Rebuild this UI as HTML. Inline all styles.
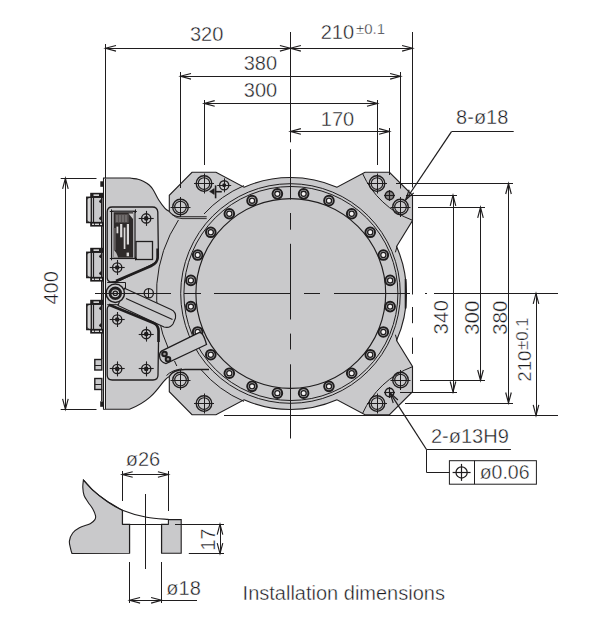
<!DOCTYPE html>
<html><head><meta charset="utf-8"><style>
html,body{margin:0;padding:0;background:#fff;}
svg{display:block;}
text{font-family:"Liberation Sans",sans-serif;fill:#1a1a1e;stroke:#fff;stroke-width:0.4px;paint-order:normal;}
</style></head><body>
<svg width="600" height="626" viewBox="0 0 600 626">
<rect width="600" height="626" fill="#fff"/>
<path d="M103.5 178 L130 178  C131.33 178.45 135.78 178.70 138.00 179.20 C140.22 179.70 141.43 180.33 143.30 181.30 C145.17 182.27 147.53 183.55 149.20 185.00 C150.87 186.45 151.71 187.50 153.30 190.00 C154.89 192.50 156.80 196.95 158.75 200.00 C160.70 203.05 163.24 206.38 165.00 208.30 C166.76 210.22 168.58 210.97 169.30 211.50 L169.3 195.3 L192 172.3 L216 172.3 L244 187.23 A116 116 0 0 1 337.00 187.23 L365 172.3 L389.5 172.3 L412.5 195.3 L412.5 220.5 L396.55 246.5 A116 116 0 0 1 396.55 340.50 L412.5 366.50 L412.5 391.7 L389.5 414.7 L365 414.7 L337 399.77 A116 116 0 0 1 244 399.77 L216 414.7 L192 414.7 L169.3 391.7 L169.3 376.5 C160 381 158 398 129.5 409.3 L103.5 409.3 Z" fill="#c9c9cb" stroke="#1f1d1e" stroke-width="1.1"/>
<circle cx="290.50" cy="293.50" r="109.80" fill="none" stroke="#1f1d1e" stroke-width="1.00"/>
<circle cx="290.90" cy="293.50" r="107.00" fill="none" stroke="#1f1d1e" stroke-width="1.00"/>
<circle cx="290.80" cy="293.50" r="94.90" fill="none" stroke="#1f1d1e" stroke-width="1.15"/>
<circle cx="390.14" cy="280.38" r="4.80" fill="#c9c9cb" stroke="#1f1d1e" stroke-width="2.00"/>
<circle cx="390.14" cy="280.38" r="2.60" fill="#f4f2f2" stroke="#1f1d1e" stroke-width="1.30"/>
<circle cx="383.35" cy="255.04" r="4.80" fill="#c9c9cb" stroke="#1f1d1e" stroke-width="2.00"/>
<circle cx="383.35" cy="255.04" r="2.60" fill="#f4f2f2" stroke="#1f1d1e" stroke-width="1.30"/>
<circle cx="370.23" cy="232.32" r="4.80" fill="#c9c9cb" stroke="#1f1d1e" stroke-width="2.00"/>
<circle cx="370.23" cy="232.32" r="2.60" fill="#f4f2f2" stroke="#1f1d1e" stroke-width="1.30"/>
<circle cx="351.68" cy="213.77" r="4.80" fill="#c9c9cb" stroke="#1f1d1e" stroke-width="2.00"/>
<circle cx="351.68" cy="213.77" r="2.60" fill="#f4f2f2" stroke="#1f1d1e" stroke-width="1.30"/>
<circle cx="328.96" cy="200.65" r="4.80" fill="#c9c9cb" stroke="#1f1d1e" stroke-width="2.00"/>
<circle cx="328.96" cy="200.65" r="2.60" fill="#f4f2f2" stroke="#1f1d1e" stroke-width="1.30"/>
<circle cx="303.62" cy="193.86" r="4.80" fill="#c9c9cb" stroke="#1f1d1e" stroke-width="2.00"/>
<circle cx="303.62" cy="193.86" r="2.60" fill="#f4f2f2" stroke="#1f1d1e" stroke-width="1.30"/>
<circle cx="277.38" cy="193.86" r="4.80" fill="#c9c9cb" stroke="#1f1d1e" stroke-width="2.00"/>
<circle cx="277.38" cy="193.86" r="2.60" fill="#f4f2f2" stroke="#1f1d1e" stroke-width="1.30"/>
<circle cx="252.04" cy="200.65" r="4.80" fill="#c9c9cb" stroke="#1f1d1e" stroke-width="2.00"/>
<circle cx="252.04" cy="200.65" r="2.60" fill="#f4f2f2" stroke="#1f1d1e" stroke-width="1.30"/>
<circle cx="229.32" cy="213.77" r="4.80" fill="#c9c9cb" stroke="#1f1d1e" stroke-width="2.00"/>
<circle cx="229.32" cy="213.77" r="2.60" fill="#f4f2f2" stroke="#1f1d1e" stroke-width="1.30"/>
<circle cx="210.77" cy="232.32" r="4.80" fill="#c9c9cb" stroke="#1f1d1e" stroke-width="2.00"/>
<circle cx="210.77" cy="232.32" r="2.60" fill="#f4f2f2" stroke="#1f1d1e" stroke-width="1.30"/>
<circle cx="197.65" cy="255.04" r="4.80" fill="#c9c9cb" stroke="#1f1d1e" stroke-width="2.00"/>
<circle cx="197.65" cy="255.04" r="2.60" fill="#f4f2f2" stroke="#1f1d1e" stroke-width="1.30"/>
<circle cx="190.86" cy="280.38" r="4.80" fill="#c9c9cb" stroke="#1f1d1e" stroke-width="2.00"/>
<circle cx="190.86" cy="280.38" r="2.60" fill="#f4f2f2" stroke="#1f1d1e" stroke-width="1.30"/>
<circle cx="190.86" cy="306.62" r="4.80" fill="#c9c9cb" stroke="#1f1d1e" stroke-width="2.00"/>
<circle cx="190.86" cy="306.62" r="2.60" fill="#f4f2f2" stroke="#1f1d1e" stroke-width="1.30"/>
<circle cx="197.65" cy="331.96" r="4.80" fill="#c9c9cb" stroke="#1f1d1e" stroke-width="2.00"/>
<circle cx="197.65" cy="331.96" r="2.60" fill="#f4f2f2" stroke="#1f1d1e" stroke-width="1.30"/>
<circle cx="210.77" cy="354.68" r="4.80" fill="#c9c9cb" stroke="#1f1d1e" stroke-width="2.00"/>
<circle cx="210.77" cy="354.68" r="2.60" fill="#f4f2f2" stroke="#1f1d1e" stroke-width="1.30"/>
<circle cx="229.32" cy="373.23" r="4.80" fill="#c9c9cb" stroke="#1f1d1e" stroke-width="2.00"/>
<circle cx="229.32" cy="373.23" r="2.60" fill="#f4f2f2" stroke="#1f1d1e" stroke-width="1.30"/>
<circle cx="252.04" cy="386.35" r="4.80" fill="#c9c9cb" stroke="#1f1d1e" stroke-width="2.00"/>
<circle cx="252.04" cy="386.35" r="2.60" fill="#f4f2f2" stroke="#1f1d1e" stroke-width="1.30"/>
<circle cx="277.38" cy="393.14" r="4.80" fill="#c9c9cb" stroke="#1f1d1e" stroke-width="2.00"/>
<circle cx="277.38" cy="393.14" r="2.60" fill="#f4f2f2" stroke="#1f1d1e" stroke-width="1.30"/>
<circle cx="303.62" cy="393.14" r="4.80" fill="#c9c9cb" stroke="#1f1d1e" stroke-width="2.00"/>
<circle cx="303.62" cy="393.14" r="2.60" fill="#f4f2f2" stroke="#1f1d1e" stroke-width="1.30"/>
<circle cx="328.96" cy="386.35" r="4.80" fill="#c9c9cb" stroke="#1f1d1e" stroke-width="2.00"/>
<circle cx="328.96" cy="386.35" r="2.60" fill="#f4f2f2" stroke="#1f1d1e" stroke-width="1.30"/>
<circle cx="351.68" cy="373.23" r="4.80" fill="#c9c9cb" stroke="#1f1d1e" stroke-width="2.00"/>
<circle cx="351.68" cy="373.23" r="2.60" fill="#f4f2f2" stroke="#1f1d1e" stroke-width="1.30"/>
<circle cx="370.23" cy="354.68" r="4.80" fill="#c9c9cb" stroke="#1f1d1e" stroke-width="2.00"/>
<circle cx="370.23" cy="354.68" r="2.60" fill="#f4f2f2" stroke="#1f1d1e" stroke-width="1.30"/>
<circle cx="383.35" cy="331.96" r="4.80" fill="#c9c9cb" stroke="#1f1d1e" stroke-width="2.00"/>
<circle cx="383.35" cy="331.96" r="2.60" fill="#f4f2f2" stroke="#1f1d1e" stroke-width="1.30"/>
<circle cx="390.14" cy="306.62" r="4.80" fill="#c9c9cb" stroke="#1f1d1e" stroke-width="2.00"/>
<circle cx="390.14" cy="306.62" r="2.60" fill="#f4f2f2" stroke="#1f1d1e" stroke-width="1.30"/>
<path d="M362.60 173.60 A88.00 88.00 0 0 0 412.30 220.20" fill="none" stroke="#1f1d1e" stroke-width="1.00" />
<path d="M412.30 366.80 A88.00 88.00 0 0 0 362.60 413.40" fill="none" stroke="#1f1d1e" stroke-width="1.00" />
<path d="M204.00 213.98 A117.50 117.50 0 0 1 244.00 185.59" fill="none" stroke="#1f1d1e" stroke-width="1.00" />
<path d="M244.00 401.41 A117.50 117.50 0 0 1 201.00 369.63" fill="none" stroke="#1f1d1e" stroke-width="1.00" />
<path d="M169.3 211.5 Q173 216.8 180.8 216.8 L206.7 216.8" fill="none" stroke="#1f1d1e" stroke-width="1.10" />
<path d="M172 214.5 Q176 218.6 182 218.6 L206.7 218.6" fill="none" stroke="#1f1d1e" stroke-width="0.90" />
<path d="M169.3 376.5 Q173 369.5 185 369.5 L209 369.5" fill="none" stroke="#1f1d1e" stroke-width="1.30" />
<path d="M166.5 375.5 Q172 370 182 368.8" fill="none" stroke="#1f1d1e" stroke-width="1.00" />
<circle cx="204.00" cy="183.50" r="7.80" fill="none" stroke="#1f1d1e" stroke-width="1.35"/>
<circle cx="204.00" cy="183.50" r="5.80" fill="none" stroke="#1f1d1e" stroke-width="1.15"/>
<line x1="194.00" y1="183.50" x2="214.00" y2="183.50" stroke="#1f1d1e" stroke-width="1.00" />
<line x1="204.50" y1="173.50" x2="204.50" y2="193.50" stroke="#1f1d1e" stroke-width="1.00" />
<circle cx="180.50" cy="207.00" r="7.80" fill="none" stroke="#1f1d1e" stroke-width="1.35"/>
<circle cx="180.50" cy="207.00" r="5.80" fill="none" stroke="#1f1d1e" stroke-width="1.15"/>
<line x1="170.50" y1="207.50" x2="190.50" y2="207.50" stroke="#1f1d1e" stroke-width="1.00" />
<line x1="180.50" y1="197.00" x2="180.50" y2="217.00" stroke="#1f1d1e" stroke-width="1.00" />
<circle cx="204.00" cy="403.50" r="7.80" fill="none" stroke="#1f1d1e" stroke-width="1.35"/>
<circle cx="204.00" cy="403.50" r="5.80" fill="none" stroke="#1f1d1e" stroke-width="1.15"/>
<line x1="194.00" y1="403.50" x2="214.00" y2="403.50" stroke="#1f1d1e" stroke-width="1.00" />
<line x1="204.50" y1="393.50" x2="204.50" y2="413.50" stroke="#1f1d1e" stroke-width="1.00" />
<circle cx="180.50" cy="380.00" r="7.80" fill="none" stroke="#1f1d1e" stroke-width="1.35"/>
<circle cx="180.50" cy="380.00" r="5.80" fill="none" stroke="#1f1d1e" stroke-width="1.15"/>
<line x1="170.50" y1="380.50" x2="190.50" y2="380.50" stroke="#1f1d1e" stroke-width="1.00" />
<line x1="180.50" y1="370.00" x2="180.50" y2="390.00" stroke="#1f1d1e" stroke-width="1.00" />
<circle cx="377.00" cy="183.50" r="7.80" fill="none" stroke="#1f1d1e" stroke-width="1.35"/>
<circle cx="377.00" cy="183.50" r="5.80" fill="none" stroke="#1f1d1e" stroke-width="1.15"/>
<line x1="367.00" y1="183.50" x2="387.00" y2="183.50" stroke="#1f1d1e" stroke-width="1.00" />
<line x1="377.50" y1="173.50" x2="377.50" y2="193.50" stroke="#1f1d1e" stroke-width="1.00" />
<circle cx="400.50" cy="207.00" r="7.80" fill="none" stroke="#1f1d1e" stroke-width="1.35"/>
<circle cx="400.50" cy="207.00" r="5.80" fill="none" stroke="#1f1d1e" stroke-width="1.15"/>
<line x1="390.50" y1="207.50" x2="410.50" y2="207.50" stroke="#1f1d1e" stroke-width="1.00" />
<line x1="400.50" y1="197.00" x2="400.50" y2="217.00" stroke="#1f1d1e" stroke-width="1.00" />
<circle cx="377.00" cy="403.50" r="7.80" fill="none" stroke="#1f1d1e" stroke-width="1.35"/>
<circle cx="377.00" cy="403.50" r="5.80" fill="none" stroke="#1f1d1e" stroke-width="1.15"/>
<line x1="367.00" y1="403.50" x2="387.00" y2="403.50" stroke="#1f1d1e" stroke-width="1.00" />
<line x1="377.50" y1="393.50" x2="377.50" y2="413.50" stroke="#1f1d1e" stroke-width="1.00" />
<circle cx="400.50" cy="380.00" r="7.80" fill="none" stroke="#1f1d1e" stroke-width="1.35"/>
<circle cx="400.50" cy="380.00" r="5.80" fill="none" stroke="#1f1d1e" stroke-width="1.15"/>
<line x1="390.50" y1="380.50" x2="410.50" y2="380.50" stroke="#1f1d1e" stroke-width="1.00" />
<line x1="400.50" y1="370.00" x2="400.50" y2="390.00" stroke="#1f1d1e" stroke-width="1.00" />
<circle cx="224.20" cy="185.30" r="4.60" fill="none" stroke="#1f1d1e" stroke-width="1.40"/>
<circle cx="224.20" cy="185.30" r="2.00" fill="#1f1d1e" stroke="none" stroke-width="0.00"/>
<line x1="217.20" y1="185.50" x2="231.20" y2="185.50" stroke="#1f1d1e" stroke-width="1.00" />
<line x1="224.50" y1="178.30" x2="224.50" y2="192.30" stroke="#1f1d1e" stroke-width="1.00" />
<circle cx="389.50" cy="195.50" r="4.30" fill="#8c8a8a" stroke="#1f1d1e" stroke-width="1.50"/>
<line x1="384.00" y1="195.50" x2="395.00" y2="195.50" stroke="#1f1d1e" stroke-width="1.10" />
<line x1="389.50" y1="190.00" x2="389.50" y2="201.00" stroke="#1f1d1e" stroke-width="1.10" />
<circle cx="389.50" cy="392.50" r="4.30" fill="#c9c9cb" stroke="#1f1d1e" stroke-width="1.50"/>
<line x1="384.00" y1="392.50" x2="395.00" y2="392.50" stroke="#1f1d1e" stroke-width="1.10" />
<line x1="389.50" y1="387.00" x2="389.50" y2="398.00" stroke="#1f1d1e" stroke-width="1.10" />
<path d="M209.6 191.5 L214.2 188.6 L214.2 194.4 Z" fill="#1f1d1e" stroke="#1f1d1e" stroke-width="0.60" />
<line x1="215.60" y1="185.40" x2="215.60" y2="198.30" stroke="#1f1d1e" stroke-width="1.60" />
<line x1="215.60" y1="191.70" x2="221.80" y2="191.70" stroke="#1f1d1e" stroke-width="1.60" />
<path d="M178.46 220.00 A134.00 134.00 0 0 0 168.99 350.00" fill="none" stroke="#1f1d1e" stroke-width="1.00" />
<line x1="104.50" y1="179.00" x2="104.50" y2="408.80" stroke="#f4f4f4" stroke-width="1.00" />
<line x1="105.50" y1="178.50" x2="105.50" y2="409.00" stroke="#1f1d1e" stroke-width="1.00" />
<rect x="100.30" y="181.30" width="3.00" height="5.50" rx="0.00" fill="#1f1d1e" stroke="none" stroke-width="0.00"/>
<rect x="90.20" y="192.80" width="13.00" height="4.60" rx="0.00" fill="#1f1d1e" stroke="none" stroke-width="0.00"/>
<rect x="90.20" y="222.20" width="13.00" height="4.40" rx="0.00" fill="#1f1d1e" stroke="none" stroke-width="0.00"/>
<rect x="86.80" y="197.30" width="5.00" height="25.20" rx="0.00" fill="#d6d6d6" stroke="#1f1d1e" stroke-width="1.50"/>
<rect x="91.30" y="197.30" width="11.80" height="25.20" rx="0.00" fill="#c9c9cb" stroke="#1f1d1e" stroke-width="1.30"/>
<line x1="93.50" y1="197.30" x2="93.50" y2="222.50" stroke="#1f1d1e" stroke-width="1.20" />
<line x1="101.50" y1="197.30" x2="101.50" y2="222.50" stroke="#1f1d1e" stroke-width="1.00" />
<rect x="93.50" y="194.40" width="5.50" height="1.50" rx="0.00" fill="#e4e4e4" stroke="none" stroke-width="0.00"/>
<rect x="92.00" y="223.60" width="2.20" height="1.40" rx="0.00" fill="#d8d8d8" stroke="none" stroke-width="0.00"/>
<rect x="95.00" y="223.60" width="4.00" height="1.40" rx="0.00" fill="#d8d8d8" stroke="none" stroke-width="0.00"/>
<rect x="100.00" y="223.60" width="2.00" height="1.40" rx="0.00" fill="#d8d8d8" stroke="none" stroke-width="0.00"/>
<path d="M101.2 199.50 L99 201.50 L101.2 203.00 Z" fill="#1f1d1e" stroke="#1f1d1e" stroke-width="0.80" />
<path d="M101.2 216.50 L99 218.50 L101.2 220.00 Z" fill="#1f1d1e" stroke="#1f1d1e" stroke-width="0.80" />
<path d="M86.8 199.50 L89 197.30" fill="none" stroke="#1f1d1e" stroke-width="1.00" />
<path d="M86.8 220.30 L89 222.50" fill="none" stroke="#1f1d1e" stroke-width="1.00" />
<rect x="90.20" y="247.80" width="13.00" height="4.60" rx="0.00" fill="#1f1d1e" stroke="none" stroke-width="0.00"/>
<rect x="90.20" y="277.20" width="13.00" height="4.40" rx="0.00" fill="#1f1d1e" stroke="none" stroke-width="0.00"/>
<rect x="86.80" y="252.30" width="5.00" height="25.20" rx="0.00" fill="#d6d6d6" stroke="#1f1d1e" stroke-width="1.50"/>
<rect x="91.30" y="252.30" width="11.80" height="25.20" rx="0.00" fill="#c9c9cb" stroke="#1f1d1e" stroke-width="1.30"/>
<line x1="93.50" y1="252.30" x2="93.50" y2="277.50" stroke="#1f1d1e" stroke-width="1.20" />
<line x1="101.50" y1="252.30" x2="101.50" y2="277.50" stroke="#1f1d1e" stroke-width="1.00" />
<rect x="93.50" y="249.40" width="5.50" height="1.50" rx="0.00" fill="#e4e4e4" stroke="none" stroke-width="0.00"/>
<rect x="92.00" y="278.60" width="2.20" height="1.40" rx="0.00" fill="#d8d8d8" stroke="none" stroke-width="0.00"/>
<rect x="95.00" y="278.60" width="4.00" height="1.40" rx="0.00" fill="#d8d8d8" stroke="none" stroke-width="0.00"/>
<rect x="100.00" y="278.60" width="2.00" height="1.40" rx="0.00" fill="#d8d8d8" stroke="none" stroke-width="0.00"/>
<path d="M101.2 254.50 L99 256.50 L101.2 258.00 Z" fill="#1f1d1e" stroke="#1f1d1e" stroke-width="0.80" />
<path d="M101.2 271.50 L99 273.50 L101.2 275.00 Z" fill="#1f1d1e" stroke="#1f1d1e" stroke-width="0.80" />
<path d="M86.8 254.50 L89 252.30" fill="none" stroke="#1f1d1e" stroke-width="1.00" />
<path d="M86.8 275.30 L89 277.50" fill="none" stroke="#1f1d1e" stroke-width="1.00" />
<rect x="90.20" y="299.80" width="13.00" height="4.60" rx="0.00" fill="#1f1d1e" stroke="none" stroke-width="0.00"/>
<rect x="90.20" y="329.20" width="13.00" height="4.40" rx="0.00" fill="#1f1d1e" stroke="none" stroke-width="0.00"/>
<rect x="86.80" y="304.30" width="5.00" height="25.20" rx="0.00" fill="#d6d6d6" stroke="#1f1d1e" stroke-width="1.50"/>
<rect x="91.30" y="304.30" width="11.80" height="25.20" rx="0.00" fill="#c9c9cb" stroke="#1f1d1e" stroke-width="1.30"/>
<line x1="93.50" y1="304.30" x2="93.50" y2="329.50" stroke="#1f1d1e" stroke-width="1.20" />
<line x1="101.50" y1="304.30" x2="101.50" y2="329.50" stroke="#1f1d1e" stroke-width="1.00" />
<rect x="93.50" y="301.40" width="5.50" height="1.50" rx="0.00" fill="#e4e4e4" stroke="none" stroke-width="0.00"/>
<rect x="92.00" y="330.60" width="2.20" height="1.40" rx="0.00" fill="#d8d8d8" stroke="none" stroke-width="0.00"/>
<rect x="95.00" y="330.60" width="4.00" height="1.40" rx="0.00" fill="#d8d8d8" stroke="none" stroke-width="0.00"/>
<rect x="100.00" y="330.60" width="2.00" height="1.40" rx="0.00" fill="#d8d8d8" stroke="none" stroke-width="0.00"/>
<path d="M101.2 306.50 L99 308.50 L101.2 310.00 Z" fill="#1f1d1e" stroke="#1f1d1e" stroke-width="0.80" />
<path d="M101.2 323.50 L99 325.50 L101.2 327.00 Z" fill="#1f1d1e" stroke="#1f1d1e" stroke-width="0.80" />
<path d="M86.8 306.50 L89 304.30" fill="none" stroke="#1f1d1e" stroke-width="1.00" />
<path d="M86.8 327.30 L89 329.50" fill="none" stroke="#1f1d1e" stroke-width="1.00" />
<line x1="101.80" y1="226.00" x2="101.80" y2="248.00" stroke="#1f1d1e" stroke-width="1.60" />
<line x1="101.80" y1="281.00" x2="101.80" y2="300.00" stroke="#1f1d1e" stroke-width="1.60" />
<line x1="101.80" y1="333.00" x2="101.80" y2="359.00" stroke="#1f1d1e" stroke-width="1.60" />
<rect x="94.80" y="359.50" width="7.00" height="10.50" rx="0.00" fill="#c9c9cb" stroke="#1f1d1e" stroke-width="1.40"/>
<line x1="94.80" y1="365.50" x2="101.80" y2="365.50" stroke="#1f1d1e" stroke-width="1.00" />
<rect x="94.80" y="378.50" width="7.00" height="11.00" rx="0.00" fill="#c9c9cb" stroke="#1f1d1e" stroke-width="1.40"/>
<line x1="94.80" y1="384.50" x2="101.80" y2="384.50" stroke="#1f1d1e" stroke-width="1.00" />
<line x1="101.80" y1="389.50" x2="101.80" y2="401.00" stroke="#1f1d1e" stroke-width="1.40" />
<rect x="100.20" y="401.30" width="3.30" height="5.50" rx="0.00" fill="#1f1d1e" stroke="none" stroke-width="0.00"/>
<path d="M107.2 278 L107.2 212 Q107.2 207 112.2 207 L152.4 207 Q157.4 207 157.8 212 L158.4 255 Q158.4 262 152 264.5 L120 280.5 Q115 282 110 281.8 Q107.2 281 107.2 278 Z" fill="none" stroke="#1f1d1e" stroke-width="1.30" />
<path d="M157.6 248.5 L157.6 257.5 Q157.6 263 151 266 L116 281" fill="none" stroke="#1f1d1e" stroke-width="2.60" />
<rect x="111.60" y="211.20" width="23.40" height="47.30" rx="0.00" fill="none" stroke="#1f1d1e" stroke-width="1.20"/>
<rect x="113.60" y="212.20" width="19.60" height="45.50" rx="0.00" fill="#2e2a2a" stroke="none" stroke-width="0.00"/>
<rect x="115.20" y="214.20" width="13.50" height="8.50" rx="0.00" fill="#575252" stroke="none" stroke-width="0.00"/>
<rect x="116.50" y="215.00" width="1.00" height="7.00" rx="0.00" fill="#8a8585" stroke="none" stroke-width="0.00"/>
<rect x="119.50" y="215.00" width="1.00" height="7.00" rx="0.00" fill="#8a8585" stroke="none" stroke-width="0.00"/>
<rect x="122.50" y="215.00" width="1.00" height="7.00" rx="0.00" fill="#8a8585" stroke="none" stroke-width="0.00"/>
<rect x="125.50" y="215.00" width="1.00" height="7.00" rx="0.00" fill="#8a8585" stroke="none" stroke-width="0.00"/>
<rect x="113.80" y="228.00" width="2.00" height="22.00" rx="0.00" fill="#5e5959" stroke="none" stroke-width="0.00"/>
<rect x="120.10" y="224.00" width="2.20" height="13.30" rx="0.00" fill="#dcdada" stroke="none" stroke-width="0.00"/>
<rect x="126.80" y="224.00" width="2.20" height="20.50" rx="0.00" fill="#dcdada" stroke="none" stroke-width="0.00"/>
<rect x="116.50" y="226.60" width="1.80" height="6.70" rx="0.00" fill="#dcdada" stroke="none" stroke-width="0.00"/>
<rect x="123.70" y="227.50" width="1.70" height="21.50" rx="0.00" fill="#dcdada" stroke="none" stroke-width="0.00"/>
<rect x="126.60" y="252.60" width="2.40" height="3.60" rx="0.00" fill="#dcdada" stroke="none" stroke-width="0.00"/>
<path d="M128.5 213.4 L133 213.4 L133 219 Z" fill="#cfcdcd" stroke="none" stroke-width="0.00" />
<path d="M114 250 Q117 253 118 257.5 L114 257.5 Z" fill="#bdbbbb" stroke="none" stroke-width="0.00" />
<line x1="109.80" y1="211.50" x2="113.40" y2="211.50" stroke="#1f1d1e" stroke-width="1.00" />
<line x1="111.50" y1="209.40" x2="111.50" y2="213.00" stroke="#1f1d1e" stroke-width="1.00" />
<line x1="133.20" y1="211.50" x2="136.80" y2="211.50" stroke="#1f1d1e" stroke-width="1.00" />
<line x1="135.50" y1="209.40" x2="135.50" y2="213.00" stroke="#1f1d1e" stroke-width="1.00" />
<line x1="109.80" y1="258.50" x2="113.40" y2="258.50" stroke="#1f1d1e" stroke-width="1.00" />
<line x1="111.50" y1="256.70" x2="111.50" y2="260.30" stroke="#1f1d1e" stroke-width="1.00" />
<line x1="133.20" y1="258.50" x2="136.80" y2="258.50" stroke="#1f1d1e" stroke-width="1.00" />
<line x1="135.50" y1="256.70" x2="135.50" y2="260.30" stroke="#1f1d1e" stroke-width="1.00" />
<rect x="136.00" y="241.50" width="16.50" height="18.00" rx="0.00" fill="none" stroke="#1f1d1e" stroke-width="1.30"/>
<circle cx="146.20" cy="218.40" r="4.60" fill="none" stroke="#1f1d1e" stroke-width="1.35"/>
<circle cx="146.20" cy="218.40" r="2.30" fill="#1f1d1e" stroke="none" stroke-width="0.00"/>
<line x1="138.70" y1="218.50" x2="153.70" y2="218.50" stroke="#1f1d1e" stroke-width="1.10" />
<line x1="146.50" y1="210.90" x2="146.50" y2="225.90" stroke="#1f1d1e" stroke-width="1.10" />
<circle cx="117.20" cy="267.50" r="4.60" fill="none" stroke="#1f1d1e" stroke-width="1.35"/>
<circle cx="117.20" cy="267.50" r="2.30" fill="#1f1d1e" stroke="none" stroke-width="0.00"/>
<line x1="109.70" y1="267.50" x2="124.70" y2="267.50" stroke="#1f1d1e" stroke-width="1.10" />
<line x1="117.50" y1="260.00" x2="117.50" y2="275.00" stroke="#1f1d1e" stroke-width="1.10" />
<path d="M107.2 282.5 L125.5 282.5 L125.5 304.7 L107.2 304.7" fill="none" stroke="#1f1d1e" stroke-width="1.00" />
<path d="M124.5 288.3 L171 309.5 Q176.5 312 175.5 318 L173 324 Q170 328.5 164 327 L118 305.5 Z" fill="#c9c9cb" stroke="#1f1d1e" stroke-width="1.10" />
<line x1="126.00" y1="298.50" x2="172.50" y2="319.60" stroke="#1f1d1e" stroke-width="1.10" />
<circle cx="115.30" cy="293.30" r="9.20" fill="#c9c9cb" stroke="#1f1d1e" stroke-width="1.50"/>
<circle cx="115.30" cy="293.30" r="5.30" fill="none" stroke="#1f1d1e" stroke-width="2.80"/>
<circle cx="115.30" cy="293.30" r="2.20" fill="none" stroke="#1f1d1e" stroke-width="1.20"/>
<circle cx="148.80" cy="293.30" r="4.60" fill="none" stroke="#1f1d1e" stroke-width="1.35"/>
<line x1="148.50" y1="293.50" x2="148.50" y2="293.50" stroke="#1f1d1e" stroke-width="1.10" />
<line x1="148.50" y1="293.50" x2="148.50" y2="293.50" stroke="#1f1d1e" stroke-width="1.10" />
<line x1="148.50" y1="288.70" x2="148.50" y2="297.90" stroke="#1f1d1e" stroke-width="1.00" />
<path d="M107.2 310 L107.2 375 Q107.2 380 112.2 380 L153 380 Q158 380 158 375 L158.7 330 Q158.7 325 154 323 L111 305.5 Q107.2 305 107.2 310 Z" fill="none" stroke="#1f1d1e" stroke-width="1.30" />
<path d="M109 304.8 L153.5 323 Q158.3 325 158.5 331 L158.5 342" fill="none" stroke="#1f1d1e" stroke-width="2.60" />
<circle cx="117.20" cy="319.50" r="4.60" fill="none" stroke="#1f1d1e" stroke-width="1.35"/>
<circle cx="117.20" cy="319.50" r="2.30" fill="#1f1d1e" stroke="none" stroke-width="0.00"/>
<line x1="109.70" y1="319.50" x2="124.70" y2="319.50" stroke="#1f1d1e" stroke-width="1.10" />
<line x1="117.50" y1="312.00" x2="117.50" y2="327.00" stroke="#1f1d1e" stroke-width="1.10" />
<circle cx="146.20" cy="334.10" r="4.60" fill="none" stroke="#1f1d1e" stroke-width="1.35"/>
<circle cx="146.20" cy="334.10" r="2.30" fill="#1f1d1e" stroke="none" stroke-width="0.00"/>
<line x1="138.70" y1="334.50" x2="153.70" y2="334.50" stroke="#1f1d1e" stroke-width="1.10" />
<line x1="146.50" y1="326.60" x2="146.50" y2="341.60" stroke="#1f1d1e" stroke-width="1.10" />
<circle cx="117.20" cy="368.90" r="4.60" fill="none" stroke="#1f1d1e" stroke-width="1.35"/>
<circle cx="117.20" cy="368.90" r="2.30" fill="#1f1d1e" stroke="none" stroke-width="0.00"/>
<line x1="109.70" y1="368.50" x2="124.70" y2="368.50" stroke="#1f1d1e" stroke-width="1.10" />
<line x1="117.50" y1="361.40" x2="117.50" y2="376.40" stroke="#1f1d1e" stroke-width="1.10" />
<circle cx="146.20" cy="368.90" r="4.60" fill="none" stroke="#1f1d1e" stroke-width="1.35"/>
<circle cx="146.20" cy="368.90" r="2.30" fill="#1f1d1e" stroke="none" stroke-width="0.00"/>
<line x1="138.70" y1="368.50" x2="153.70" y2="368.50" stroke="#1f1d1e" stroke-width="1.10" />
<line x1="146.50" y1="361.40" x2="146.50" y2="376.40" stroke="#1f1d1e" stroke-width="1.10" />
<path d="M161.8 350.8 L199 332.7 Q203 331 206.5 344.5 L166 363.6 Q160 362 159.5 356 Q159.5 352 161.8 350.8 Z" fill="#c9c9cb" stroke="#1f1d1e" stroke-width="1.30" />
<circle cx="164.50" cy="354.00" r="2.30" fill="#9a9696" stroke="#1f1d1e" stroke-width="2.00"/>
<circle cx="168.00" cy="359.30" r="2.30" fill="#9a9696" stroke="#1f1d1e" stroke-width="2.00"/>
<line x1="174.50" y1="361.00" x2="176.80" y2="366.00" stroke="#1f1d1e" stroke-width="1.00" />
<line x1="412.50" y1="220.50" x2="412.50" y2="294.50" stroke="#1f1d1e" stroke-width="1.00" />
<line x1="412.50" y1="307.00" x2="412.50" y2="323.20" stroke="#1f1d1e" stroke-width="1.00" />
<line x1="412.50" y1="337.60" x2="412.50" y2="353.90" stroke="#1f1d1e" stroke-width="1.00" />
<line x1="405.60" y1="279.00" x2="405.60" y2="308.50" stroke="#1f1d1e" stroke-width="1.80" />
<line x1="397.00" y1="246.50" x2="395.40" y2="252.30" stroke="#1f1d1e" stroke-width="1.00" />
<line x1="397.00" y1="340.50" x2="395.40" y2="334.70" stroke="#1f1d1e" stroke-width="1.00" />
<line x1="105.50" y1="44.00" x2="105.50" y2="178.00" stroke="#1f1d1e" stroke-width="1.00" />
<line x1="180.50" y1="72.00" x2="180.50" y2="188.00" stroke="#1f1d1e" stroke-width="1.00" />
<line x1="204.50" y1="100.00" x2="204.50" y2="165.00" stroke="#1f1d1e" stroke-width="1.00" />
<line x1="377.50" y1="100.00" x2="377.50" y2="165.00" stroke="#1f1d1e" stroke-width="1.00" />
<line x1="389.50" y1="128.00" x2="389.50" y2="175.00" stroke="#1f1d1e" stroke-width="1.00" />
<line x1="400.50" y1="72.00" x2="400.50" y2="188.50" stroke="#1f1d1e" stroke-width="1.00" />
<line x1="412.50" y1="32.00" x2="412.50" y2="187.50" stroke="#1f1d1e" stroke-width="1.00" />
<line x1="290.50" y1="32.00" x2="290.50" y2="142.30" stroke="#1f1d1e" stroke-width="1.00" />
<line x1="290.50" y1="149.20" x2="290.50" y2="199.60" stroke="#1f1d1e" stroke-width="1.00" />
<line x1="290.50" y1="213.00" x2="290.50" y2="229.70" stroke="#1f1d1e" stroke-width="1.00" />
<line x1="290.50" y1="243.80" x2="290.50" y2="319.50" stroke="#1f1d1e" stroke-width="1.00" />
<line x1="290.50" y1="333.60" x2="290.50" y2="349.50" stroke="#1f1d1e" stroke-width="1.00" />
<line x1="290.50" y1="364.30" x2="290.50" y2="438.50" stroke="#1f1d1e" stroke-width="1.00" />
<line x1="95.00" y1="293.50" x2="171.00" y2="293.50" stroke="#1f1d1e" stroke-width="1.00" />
<line x1="184.00" y1="293.50" x2="201.00" y2="293.50" stroke="#1f1d1e" stroke-width="1.00" />
<line x1="214.00" y1="293.50" x2="291.00" y2="293.50" stroke="#1f1d1e" stroke-width="1.00" />
<line x1="304.00" y1="293.50" x2="320.00" y2="293.50" stroke="#1f1d1e" stroke-width="1.00" />
<line x1="334.00" y1="293.50" x2="410.00" y2="293.50" stroke="#1f1d1e" stroke-width="1.00" />
<line x1="425.00" y1="293.50" x2="427.00" y2="293.50" stroke="#1f1d1e" stroke-width="1.00" />
<line x1="434.00" y1="293.50" x2="558.00" y2="293.50" stroke="#1f1d1e" stroke-width="1.00" />
<line x1="105.50" y1="48.50" x2="412.60" y2="48.50" stroke="#1f1d1e" stroke-width="1.00" />
<path d="M116.00 45.50 L105.50 48.30 L116.00 51.10" fill="none" stroke="#1f1d1e" stroke-width="1.15" />
<path d="M279.90 51.10 L290.40 48.30 L279.90 45.50" fill="none" stroke="#1f1d1e" stroke-width="1.15" />
<path d="M300.90 45.50 L290.40 48.30 L300.90 51.10" fill="none" stroke="#1f1d1e" stroke-width="1.15" />
<path d="M402.10 51.10 L412.60 48.30 L402.10 45.50" fill="none" stroke="#1f1d1e" stroke-width="1.15" />
<line x1="180.50" y1="76.50" x2="400.60" y2="76.50" stroke="#1f1d1e" stroke-width="1.00" />
<path d="M191.00 73.50 L180.50 76.30 L191.00 79.10" fill="none" stroke="#1f1d1e" stroke-width="1.15" />
<path d="M390.10 79.10 L400.60 76.30 L390.10 73.50" fill="none" stroke="#1f1d1e" stroke-width="1.15" />
<line x1="204.20" y1="103.50" x2="377.50" y2="103.50" stroke="#1f1d1e" stroke-width="1.00" />
<path d="M214.70 100.60 L204.20 103.40 L214.70 106.20" fill="none" stroke="#1f1d1e" stroke-width="1.15" />
<path d="M367.00 106.20 L377.50 103.40 L367.00 100.60" fill="none" stroke="#1f1d1e" stroke-width="1.15" />
<line x1="290.40" y1="131.50" x2="389.50" y2="131.50" stroke="#1f1d1e" stroke-width="1.00" />
<path d="M300.90 128.60 L290.40 131.40 L300.90 134.20" fill="none" stroke="#1f1d1e" stroke-width="1.15" />
<path d="M379.00 134.20 L389.50 131.40 L379.00 128.60" fill="none" stroke="#1f1d1e" stroke-width="1.15" />
<line x1="396.00" y1="183.50" x2="513.00" y2="183.50" stroke="#1f1d1e" stroke-width="1.00" />
<line x1="406.00" y1="195.50" x2="457.00" y2="195.50" stroke="#1f1d1e" stroke-width="1.00" />
<line x1="418.00" y1="207.50" x2="485.00" y2="207.50" stroke="#1f1d1e" stroke-width="1.00" />
<line x1="420.00" y1="380.50" x2="485.00" y2="380.50" stroke="#1f1d1e" stroke-width="1.00" />
<line x1="400.00" y1="392.50" x2="457.00" y2="392.50" stroke="#1f1d1e" stroke-width="1.00" />
<line x1="405.00" y1="403.50" x2="513.00" y2="403.50" stroke="#1f1d1e" stroke-width="1.00" />
<line x1="224.00" y1="415.50" x2="558.00" y2="415.50" stroke="#1f1d1e" stroke-width="1.00" />
<line x1="453.50" y1="195.30" x2="453.50" y2="392.00" stroke="#1f1d1e" stroke-width="1.00" />
<path d="M455.80 205.80 L453.00 195.30 L450.20 205.80" fill="none" stroke="#1f1d1e" stroke-width="1.15" />
<path d="M450.20 381.50 L453.00 392.00 L455.80 381.50" fill="none" stroke="#1f1d1e" stroke-width="1.15" />
<line x1="480.50" y1="207.30" x2="480.50" y2="380.50" stroke="#1f1d1e" stroke-width="1.00" />
<path d="M483.30 217.80 L480.50 207.30 L477.70 217.80" fill="none" stroke="#1f1d1e" stroke-width="1.15" />
<path d="M477.70 370.00 L480.50 380.50 L483.30 370.00" fill="none" stroke="#1f1d1e" stroke-width="1.15" />
<line x1="508.50" y1="183.50" x2="508.50" y2="403.00" stroke="#1f1d1e" stroke-width="1.00" />
<path d="M511.30 194.00 L508.50 183.50 L505.70 194.00" fill="none" stroke="#1f1d1e" stroke-width="1.15" />
<path d="M505.70 392.50 L508.50 403.00 L511.30 392.50" fill="none" stroke="#1f1d1e" stroke-width="1.15" />
<line x1="536.50" y1="293.40" x2="536.50" y2="415.40" stroke="#1f1d1e" stroke-width="1.00" />
<path d="M538.80 303.90 L536.00 293.40 L533.20 303.90" fill="none" stroke="#1f1d1e" stroke-width="1.15" />
<path d="M533.20 404.90 L536.00 415.40 L538.80 404.90" fill="none" stroke="#1f1d1e" stroke-width="1.15" />
<line x1="60.70" y1="178.50" x2="96.50" y2="178.50" stroke="#1f1d1e" stroke-width="1.00" />
<line x1="60.70" y1="409.50" x2="96.50" y2="409.50" stroke="#1f1d1e" stroke-width="1.00" />
<line x1="65.50" y1="178.30" x2="65.50" y2="409.30" stroke="#1f1d1e" stroke-width="1.00" />
<path d="M68.20 188.80 L65.40 178.30 L62.60 188.80" fill="none" stroke="#1f1d1e" stroke-width="1.15" />
<path d="M62.60 398.80 L65.40 409.30 L68.20 398.80" fill="none" stroke="#1f1d1e" stroke-width="1.15" />
<line x1="451.50" y1="131.50" x2="513.70" y2="131.50" stroke="#1f1d1e" stroke-width="1.00" />
<line x1="451.50" y1="131.60" x2="405.60" y2="200.00" stroke="#1f1d1e" stroke-width="1.25" />
<path d="M409.13 189.72 L405.60 200.00 L413.78 192.84" fill="none" stroke="#1f1d1e" stroke-width="1.15" />
<line x1="389.90" y1="392.70" x2="426.50" y2="449.50" stroke="#1f1d1e" stroke-width="1.25" />
<path d="M397.94 400.01 L389.90 392.70 L393.23 403.04" fill="none" stroke="#1f1d1e" stroke-width="1.15" />
<line x1="426.50" y1="449.50" x2="510.90" y2="449.50" stroke="#1f1d1e" stroke-width="1.00" />
<line x1="426.50" y1="449.50" x2="426.50" y2="472.40" stroke="#1f1d1e" stroke-width="1.00" />
<line x1="426.50" y1="472.50" x2="449.40" y2="472.50" stroke="#1f1d1e" stroke-width="1.00" />
<rect x="449.4" y="460.7" width="87" height="23.5" fill="none" stroke="#1f1d1e" stroke-width="1"/>
<line x1="474.50" y1="460.70" x2="474.50" y2="484.20" stroke="#1f1d1e" stroke-width="1.00" />
<circle cx="461.60" cy="472.40" r="5.60" fill="none" stroke="#1f1d1e" stroke-width="1.25"/>
<line x1="452.60" y1="472.50" x2="470.60" y2="472.50" stroke="#1f1d1e" stroke-width="1.20" />
<line x1="461.50" y1="463.90" x2="461.50" y2="480.90" stroke="#1f1d1e" stroke-width="1.20" />
<path d="M83.40 480.00 C83.30 481.23 82.68 484.82 82.80 487.40 C82.92 489.98 83.22 493.03 84.10 495.50 C84.98 497.97 86.65 499.97 88.10 502.20 C89.55 504.43 91.57 506.67 92.80 508.90 C94.03 511.13 95.15 513.82 95.50 515.60 C95.85 517.38 95.78 518.25 94.90 519.60 C94.02 520.95 92.78 522.35 90.20 523.70 C87.62 525.05 82.32 526.15 79.40 527.70 C76.48 529.25 74.37 530.77 72.70 533.00 C71.03 535.23 69.73 538.40 69.40 541.10 C69.07 543.80 70.27 547.13 70.70 549.20 C71.13 551.27 71.78 552.78 72.00 553.50 L129.6 553.3 L129.6 524.3 L122.4 524.3 L122.4 510.2  C119.72 508.63 111.23 504.15 106.30 500.80 C101.37 497.45 96.62 493.57 92.80 490.10 C88.98 486.63 84.97 481.68 83.40 480.00 Z" fill="#c9c9cb" stroke="#1f1d1e" stroke-width="1.10" />
<path d="M161.6 553.3 L181.2 553.3 L181.2 519.6 L168.4 519.6 L168.4 524.3 L161.6 524.3 Z" fill="#c9c9cb" stroke="#1f1d1e" stroke-width="1.10" />
<path d="M83.40 480.00 C84.97 481.68 88.98 486.63 92.80 490.10 C96.62 493.57 101.37 497.45 106.30 500.80 C111.23 504.15 115.67 507.45 122.40 510.20 C129.13 512.95 139.03 515.77 146.70 517.30 C154.37 518.83 164.78 519.05 168.40 519.40" fill="none" stroke="#1f1d1e" stroke-width="1.10" />
<line x1="122.50" y1="511.00" x2="122.50" y2="524.30" stroke="#1f1d1e" stroke-width="1.10" />
<line x1="122.40" y1="524.50" x2="168.40" y2="524.50" stroke="#1f1d1e" stroke-width="1.10" />
<line x1="129.50" y1="524.30" x2="129.50" y2="553.00" stroke="#1f1d1e" stroke-width="1.10" />
<line x1="161.50" y1="524.30" x2="161.50" y2="553.00" stroke="#1f1d1e" stroke-width="1.10" />
<line x1="145.50" y1="494.00" x2="145.50" y2="569.00" stroke="#1f1d1e" stroke-width="1.00" />
<line x1="122.50" y1="471.00" x2="122.50" y2="501.00" stroke="#1f1d1e" stroke-width="1.00" />
<line x1="168.50" y1="471.00" x2="168.50" y2="511.00" stroke="#1f1d1e" stroke-width="1.00" />
<line x1="122.20" y1="474.50" x2="168.40" y2="474.50" stroke="#1f1d1e" stroke-width="1.00" />
<path d="M132.70 471.70 L122.20 474.50 L132.70 477.30" fill="none" stroke="#1f1d1e" stroke-width="1.15" />
<path d="M157.90 477.30 L168.40 474.50 L157.90 471.70" fill="none" stroke="#1f1d1e" stroke-width="1.15" />
<line x1="175.00" y1="524.50" x2="224.00" y2="524.50" stroke="#1f1d1e" stroke-width="1.00" />
<line x1="188.80" y1="553.50" x2="224.00" y2="553.50" stroke="#1f1d1e" stroke-width="1.00" />
<line x1="220.50" y1="524.20" x2="220.50" y2="553.60" stroke="#1f1d1e" stroke-width="1.00" />
<path d="M222.80 534.70 L220.00 524.20 L217.20 534.70" fill="none" stroke="#1f1d1e" stroke-width="1.15" />
<path d="M217.20 543.10 L220.00 553.60 L222.80 543.10" fill="none" stroke="#1f1d1e" stroke-width="1.15" />
<line x1="129.50" y1="562.00" x2="129.50" y2="603.00" stroke="#1f1d1e" stroke-width="1.00" />
<line x1="161.50" y1="562.00" x2="161.50" y2="603.00" stroke="#1f1d1e" stroke-width="1.00" />
<line x1="129.60" y1="600.50" x2="197.00" y2="600.50" stroke="#1f1d1e" stroke-width="1.00" />
<path d="M140.10 597.50 L129.60 600.30 L140.10 603.10" fill="none" stroke="#1f1d1e" stroke-width="1.15" />
<path d="M151.10 603.10 L161.60 600.30 L151.10 597.50" fill="none" stroke="#1f1d1e" stroke-width="1.15" />
<text x="189.90" y="41.15" font-size="20.00" text-anchor="start" >320</text>
<text x="320.70" y="39.00" font-size="20.00" text-anchor="start" >210</text>
<text x="356.00" y="34.00" font-size="15.00" text-anchor="start" >±0.1</text>
<text x="243.70" y="70.15" font-size="20.00" text-anchor="start" >380</text>
<text x="243.85" y="97.00" font-size="20.00" text-anchor="start" >300</text>
<text x="320.80" y="126.30" font-size="20.00" text-anchor="start" >170</text>
<text x="456.10" y="124.00" font-size="20.00" text-anchor="start" >8-ø18</text>
<text x="57.80" y="304.50" font-size="20.00" text-anchor="start" transform="rotate(-90 57.80 304.50)" >400</text>
<text x="447.88" y="334.38" font-size="20.50" text-anchor="start" transform="rotate(-90 447.88 334.38)" >340</text>
<text x="478.88" y="335.00" font-size="20.75" text-anchor="start" transform="rotate(-90 478.88 335.00)" >300</text>
<text x="507.00" y="335.00" font-size="20.75" text-anchor="start" transform="rotate(-90 507.00 335.00)" >380</text>
<text x="531.12" y="381.75" font-size="18.75" text-anchor="start" transform="rotate(-90 531.12 381.75)" >210</text>
<text x="527.55" y="349.90" font-size="16.75" text-anchor="start" transform="rotate(-90 527.55 349.90)" >±0.1</text>
<text x="431.00" y="442.90" font-size="20.00" text-anchor="start" >2-ø13H9</text>
<text x="479.65" y="479.05" font-size="19.50" text-anchor="start" >ø0.06</text>
<text x="125.75" y="465.60" font-size="20.00" text-anchor="start" >ø26</text>
<text x="214.80" y="550.85" font-size="20.00" text-anchor="start" transform="rotate(-90 214.80 550.85)" >17</text>
<text x="166.30" y="594.65" font-size="20.00" text-anchor="start" >ø18</text>
<text x="242.60" y="600.15" font-size="20.00" text-anchor="start" >Installation dimensions</text>
</svg></body></html>
